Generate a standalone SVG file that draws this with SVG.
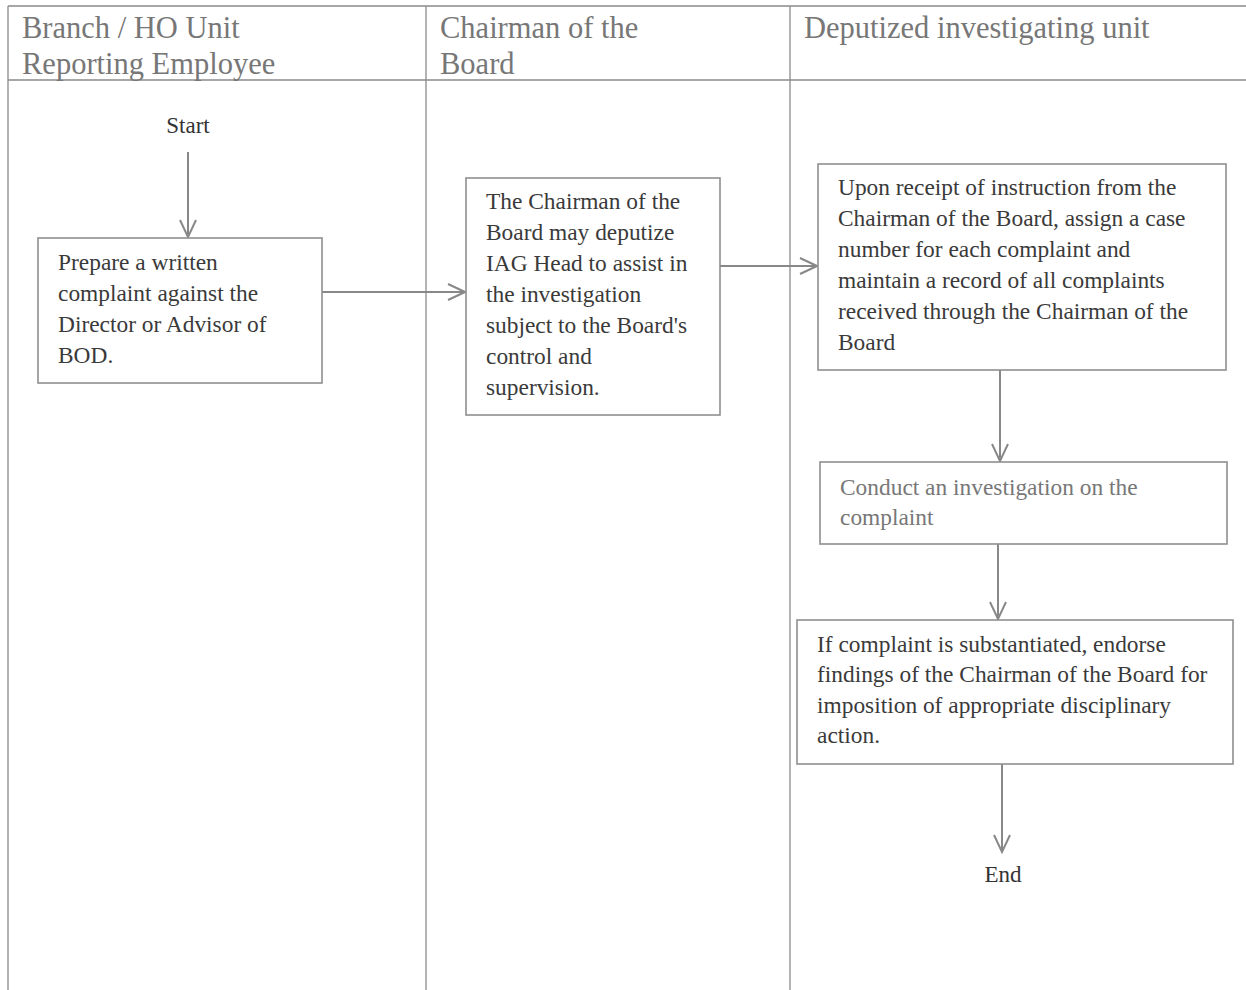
<svg xmlns="http://www.w3.org/2000/svg" width="1246" height="990" viewBox="0 0 1246 990">
  <style>
    .lane { stroke: #8a8a8a; stroke-width: 1.3; fill: none; }
    .hdr { font-family: "Liberation Serif", serif; font-size: 30.5px; fill: #777; }
    .box { fill: #fff; stroke: #8f8f8f; stroke-width: 1.6; }
    .txt { font-family: "Liberation Serif", serif; font-size: 23.4px; fill: #3a3a3a; }
    .txt-light { font-family: "Liberation Serif", serif; font-size: 23.4px; fill: #777; }
    .term { font-family: "Liberation Serif", serif; font-size: 23px; fill: #333; text-anchor: middle; }
    .conn { stroke: #888; stroke-width: 2; fill: none; marker-end: url(#vee); }
  </style>
  <defs>
    <marker id="vee" viewBox="0 0 20 20" refX="18" refY="10" markerWidth="20" markerHeight="20" markerUnits="userSpaceOnUse" orient="auto">
      <path d="M1,2 L18,10 L1,18" fill="none" stroke="#888" stroke-width="2"/>
    </marker>
  </defs>
  <rect width="1246" height="990" fill="#fff"/>

  <!-- swimlanes -->
  <g id="lanes">
    <line class="lane" x1="8" y1="6" x2="1246" y2="6"/>
    <line class="lane" x1="8" y1="80" x2="1246" y2="80"/>
    <line class="lane" x1="8" y1="6" x2="8" y2="990"/>
    <line class="lane" x1="426" y1="6" x2="426" y2="990"/>
    <line class="lane" x1="790" y1="6" x2="790" y2="990"/>
    <text class="hdr" x="22" y="38">Branch / HO Unit</text>
    <text class="hdr" x="22" y="74">Reporting Employee</text>
    <text class="hdr" x="440" y="38">Chairman of the</text>
    <text class="hdr" x="440" y="74">Board</text>
    <text class="hdr" x="804" y="38">Deputized investigating unit</text>
  </g>

  <!-- connectors -->
  <g id="connectors">
    <line class="conn" x1="188" y1="152" x2="188" y2="237"/>
    <line class="conn" x1="322" y1="292" x2="465" y2="292"/>
    <line class="conn" x1="720" y1="266" x2="817" y2="266"/>
    <line class="conn" x1="1000" y1="370" x2="1000" y2="461"/>
    <line class="conn" x1="998" y1="544" x2="998" y2="619"/>
    <line class="conn" x1="1002" y1="764" x2="1002" y2="852"/>
  </g>

  <g id="start">
    <text class="term" x="188" y="133">Start</text>
  </g>

  <g id="prepare-complaint">
    <rect class="box" x="38" y="238" width="284" height="145"/>
    <text class="txt" x="58" y="270">Prepare a written</text>
    <text class="txt" x="58" y="301">complaint against the</text>
    <text class="txt" x="58" y="332">Director or Advisor of</text>
    <text class="txt" x="58" y="363">BOD.</text>
  </g>

  <g id="deputize-iag">
    <rect class="box" x="466" y="178" width="254" height="237"/>
    <text class="txt" x="486" y="209">The Chairman of the</text>
    <text class="txt" x="486" y="240">Board may deputize</text>
    <text class="txt" x="486" y="271">IAG Head to assist in</text>
    <text class="txt" x="486" y="302">the investigation</text>
    <text class="txt" x="486" y="333">subject to the Board's</text>
    <text class="txt" x="486" y="364">control and</text>
    <text class="txt" x="486" y="395">supervision.</text>
  </g>

  <g id="assign-case">
    <rect class="box" x="818" y="164" width="408" height="206"/>
    <text class="txt" x="838" y="195">Upon receipt of instruction from the</text>
    <text class="txt" x="838" y="226">Chairman of the Board, assign a case</text>
    <text class="txt" x="838" y="257">number for each complaint and</text>
    <text class="txt" x="838" y="288">maintain a record of all complaints</text>
    <text class="txt" x="838" y="319">received through the Chairman of the</text>
    <text class="txt" x="838" y="350">Board</text>
  </g>

  <g id="investigate">
    <rect class="box" x="820" y="462" width="407" height="82"/>
    <text class="txt-light" x="840" y="495">Conduct an investigation on the</text>
    <text class="txt-light" x="840" y="525">complaint</text>
  </g>

  <g id="endorse-findings">
    <rect class="box" x="797" y="620" width="436" height="144"/>
    <text class="txt" x="817" y="652">If complaint is substantiated, endorse</text>
    <text class="txt" x="817" y="682">findings of the Chairman of the Board for</text>
    <text class="txt" x="817" y="713">imposition of appropriate disciplinary</text>
    <text class="txt" x="817" y="743">action.</text>
  </g>

  <g id="end">
    <text class="term" x="1003" y="882">End</text>
  </g>
</svg>
